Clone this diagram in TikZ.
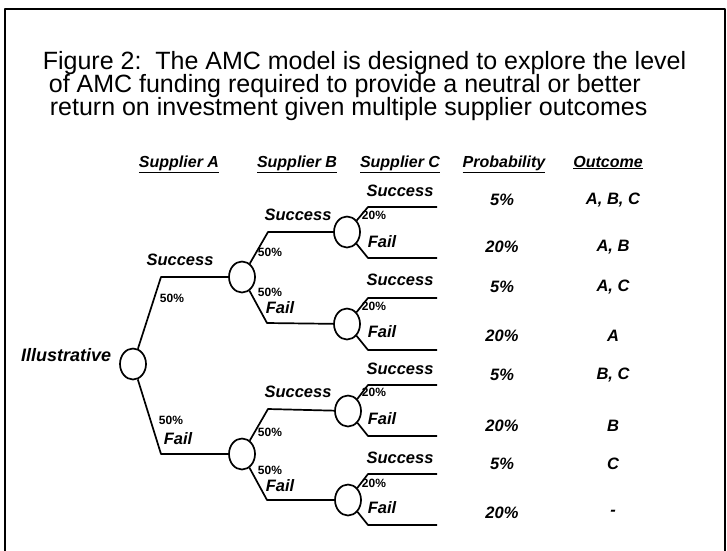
\documentclass[tikz,border=0pt]{standalone}
\usepackage{fontspec}
\setmainfont{Liberation Sans}
\usetikzlibrary{shapes,arrows,positioning}

\tikzset{
  chance/.style={ellipse, draw, minimum width=26pt, minimum height=31pt, inner sep=0pt},
  branch/.style={font=\fontsize{16.5}{19}\selectfont\bfseries\itshape, inner sep=0pt},
  share/.style={font=\fontsize{12}{14}\selectfont\bfseries, inner sep=0pt},
  result/.style={font=\fontsize{16.5}{19}\selectfont\bfseries\itshape, inner sep=0pt},
  colhead/.style={font=\fontsize{16}{18}\selectfont\bfseries\itshape, anchor=base, inner sep=0pt},
  titleline/.style={font=\fontsize{25}{25}\selectfont, anchor=base west, inner sep=0pt}
}

\begin{document}
\begin{tikzpicture}[x=1pt, y=-1pt, line width=1.7pt, line join=round]
    \useasboundingbox (0,0) rectangle (727,550);
    % Frame
    \draw[line width=1.5pt] (5,560) -- (5,9) -- (725,9) -- (725,560);

    % Title
    \node (title1) [titleline] at (42,69) {Figure 2:\ \ The AMC model is designed to explore the level};
    \node (title2) [titleline] at (48,92) {of AMC funding required to provide a neutral or better};
    \node (title3) [titleline] at (49,115) {return on investment given multiple supplier outcomes};

    % Column heads
    \node (hA) [colhead] at (179,167) {\underline{Supplier A}};
    \node (hB) [colhead] at (297,167) {\underline{Supplier B}};
    \node (hC) [colhead] at (400,167) {\underline{Supplier C}};
    \node (hP) [colhead] at (504,167) {\underline{Probability}};
    \node (hO) [colhead] at (608,167) {\underline{Outcome}};

    % Nodes
    \node (root) [chance] at (133,364) {};
    \node (illus) [branch, font=\fontsize{18}{20}\selectfont\bfseries\itshape, anchor=east] at (112,355) {Illustrative};

    \node (b1) [chance] at (242,277) {};
    \node (b2) [chance] at (242,454) {};
    \node (c1) [chance] at (347,232) {};
    \node (c2) [chance] at (347,324) {};
    \node (c3) [chance] at (348,411) {};
    \node (c4) [chance] at (348,500) {};

    \coordinate (aS) at (161,277);
    \coordinate (aF) at (161,454);
    \coordinate (b1S) at (268,232);
    \coordinate (b1F) at (267,323);
    \coordinate (b2S) at (268,409);
    \coordinate (b2F) at (267,500);

    \coordinate (e1) at (437,207);
    \coordinate (e2) at (437,258);
    \coordinate (e3) at (437,298);
    \coordinate (e4) at (437,350);
    \coordinate (e5) at (437,385);
    \coordinate (e6) at (437,436);
    \coordinate (e7) at (437,474);
    \coordinate (e8) at (437,525);

    % Edges
    \draw (root) -- (aS) -- (b1);
    \draw (root) -- (aF) -- (b2);
    \draw (b1) -- (b1S) -- (c1);
    \draw (b1) -- (b1F) -- (c2);
    \draw (b2) -- (b2S) -- (c3);
    \draw (b2) -- (b2F) -- (c4);

    \draw (c1) -- (368,207) -- (e1);
    \draw (c1) -- (368,258) -- (e2);
    \draw (c2) -- (368,298) -- (e3);
    \draw (c2) -- (368,350) -- (e4);
    \draw (c3) -- (368,385) -- (e5);
    \draw (c3) -- (368,436) -- (e6);
    \draw (c4) -- (368,474) -- (e7);
    \draw (c4) -- (368,525) -- (e8);

    % Branch labels
    \node (sA) [branch] at (180,260) {Success};
    \node (pA1) [share] at (172,298) {50\%};
    \node (pA2) [share] at (171,420) {50\%};
    \node (fA) [branch] at (178,439) {Fail};

    \node (sB1) [branch] at (298,215) {Success};
    \node (pB1) [share] at (270,252) {50\%};
    \node (pB2) [share] at (270,292) {50\%};
    \node (fB1) [branch] at (280,308) {Fail};
    \node (sB2) [branch] at (298,392) {Success};
    \node (pB3) [share] at (270,432) {50\%};
    \node (pB4) [share] at (270,470) {50\%};
    \node (fB2) [branch] at (280,486) {Fail};

    \node (sC1) [branch] at (400,191) {Success};
    \node (pC1) [share] at (374,215) {20\%};
    \node (fC1) [branch] at (382,242) {Fail};
    \node (sC2) [branch] at (400,280) {Success};
    \node (pC2) [share] at (374,306) {20\%};
    \node (fC2) [branch] at (382,332) {Fail};
    \node (sC3) [branch] at (400,369) {Success};
    \node (pC3) [share] at (374,392) {20\%};
    \node (fC3) [branch] at (382,419) {Fail};
    \node (sC4) [branch] at (400,458) {Success};
    \node (pC4) [share] at (374,483) {20\%};
    \node (fC4) [branch] at (382,508) {Fail};

    % Probability and outcome columns
    \node (p1) [result] at (502,200) {5\%};
    \node (p2) [result] at (502,247) {20\%};
    \node (p3) [result] at (502,287) {5\%};
    \node (p4) [result] at (502,336) {20\%};
    \node (p5) [result] at (502,375) {5\%};
    \node (p6) [result] at (502,426) {20\%};
    \node (p7) [result] at (502,464) {5\%};
    \node (p8) [result] at (502,513) {20\%};

    \node (o1) [result] at (613,200) {A, B, C};
    \node (o2) [result] at (613,247) {A, B};
    \node (o3) [result] at (613,287) {A, C};
    \node (o4) [result] at (613,336) {A};
    \node (o5) [result] at (613,375) {B, C};
    \node (o6) [result] at (613,426) {B};
    \node (o7) [result] at (613,464) {C};
    \node (o8) [result] at (613,513) {-};
\end{tikzpicture}
\end{document}
